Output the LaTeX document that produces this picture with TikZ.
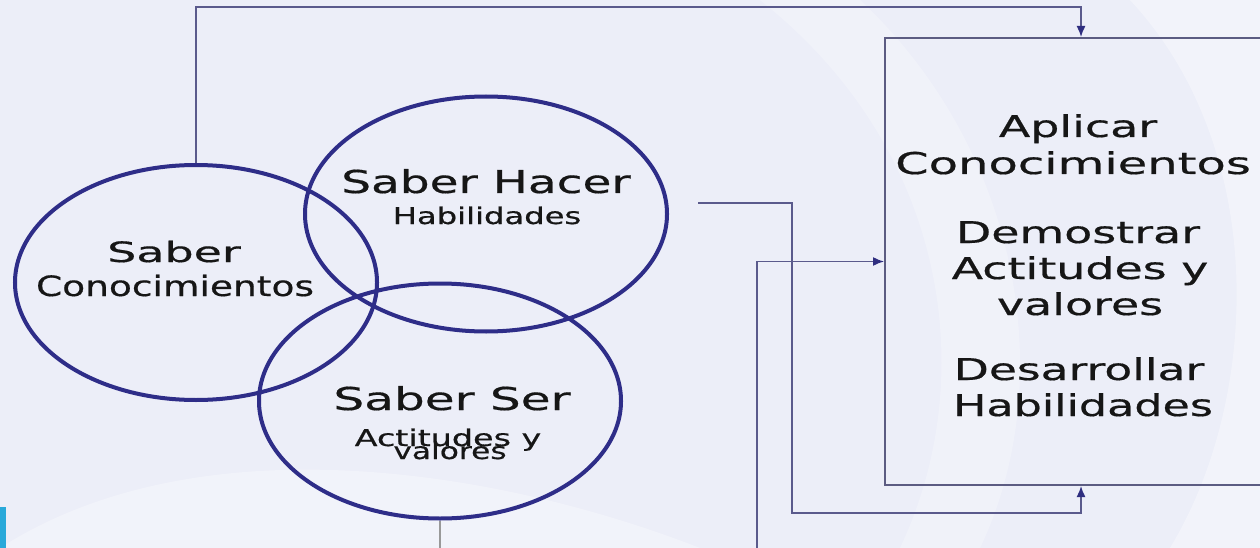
\documentclass[tikz,border=0pt]{standalone}
\usepackage{fontspec}
\usepackage{graphicx}
\setmainfont{DejaVu Sans}[FakeBold=0.5]
\usetikzlibrary{shapes.geometric,arrows.meta}
\definecolor{ringc}{HTML}{2E2D88}
\definecolor{connc}{HTML}{5A5A8C}
\definecolor{boxc}{HTML}{5C5C82}
\definecolor{bgc}{HTML}{ECEEF8}
\definecolor{inkc}{HTML}{161616}
\definecolor{tipc}{HTML}{2F2E80}
\definecolor{barc}{HTML}{29A9DA}
\newcommand{\hs}[3]{\scalebox{#1}[1]{\fontsize{#2}{#2}\selectfont #3}}
\begin{document}
\begin{tikzpicture}[x=1pt,y=-1pt,
  ringnode/.style={ellipse,draw=ringc,line width=4pt,minimum width=362pt,minimum height=235pt,inner sep=0pt},
  lbl/.style={anchor=base,inner sep=0pt,text=inkc},
  link/.style={draw=connc,line width=1.5pt},
  tipped/.style={-{Latex[length=11pt,width=9pt,color=tipc]}},
]
\useasboundingbox (0,0) rectangle (1260,548);
% background
\fill[bgc] (0,0) rectangle (1260,548);
\fill[white,opacity=0.35] (1130,0) .. controls (1270,150) and (1260,400) .. (1170,548) -- (1260,548) -- (1260,0) -- cycle;
\fill[white,opacity=0.25] (760,0) .. controls (950,150) and (980,380) .. (900,548) -- (980,548) .. controls (1060,380) and (1020,150) .. (860,0) -- cycle;
\fill[white,opacity=0.3] (0,548) .. controls (200,420) and (500,470) .. (700,548) -- cycle;
\fill[barc] (0,507) rectangle (6,548);

% circles
\node[ringnode] (saber) at (196,282.5) {};
\node[ringnode] (hacer) at (486,214) {};
\node[ringnode] (ser) at (440,401) {};

% box
\node[draw=boxc,line width=2pt,minimum width=392pt,minimum height=447pt,inner sep=0pt] (box) at (1081,261.5) {};

% circle labels
\node[lbl] (t1) at (174,262) {\hs{1.64}{28}{Saber}};
\node[lbl] (t2) at (175,296) {\hs{1.34}{28}{Conocimientos}};
\node[lbl] (t3) at (486,193) {\hs{1.49}{31.5}{Saber Hacer}};
\node[lbl] (t4) at (487,224) {\hs{1.40}{23}{Habilidades}};
\node[lbl] (t5) at (452,410) {\hs{1.54}{31.5}{Saber Ser}};
\node[lbl] (t6) at (448,446) {\hs{1.45}{23}{Actitudes y}};
\node[lbl] (t7) at (450,459) {\hs{1.36}{23}{valores}};

% box labels
\node[lbl] (b1) at (1078,137) {\hs{1.53}{30}{Aplicar}};
\node[lbl] (b2) at (1073,174) {\hs{1.60}{30}{Conocimientos}};
\node[lbl] (b3) at (1078,243) {\hs{1.53}{30}{Demostrar}};
\node[lbl] (b4) at (1080,279) {\hs{1.53}{30}{Actitudes y}};
\node[lbl] (b5) at (1080,315) {\hs{1.53}{30}{valores}};
\node[lbl] (b6) at (1079,380) {\hs{1.52}{30}{Desarrollar}};
\node[lbl] (b7) at (1083,416) {\hs{1.48}{30}{Habilidades}};

% connectors
\draw[link,tipped] (saber.north) -- ++(0,-156) -| (box.north);
\draw[link,tipped] ([xshift=29pt,yshift=11pt]hacer.east) -| ++(94,310) -| (box.south);
\coordinate (inlet) at (757,548);
\draw[link,tipped] (inlet) |- (box.west);
\draw[draw=gray!80,line width=1.5pt] (ser.south) -- ++(0,30);
\end{tikzpicture}
\end{document}
